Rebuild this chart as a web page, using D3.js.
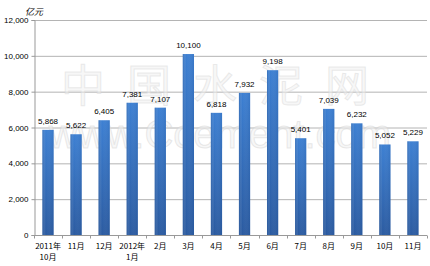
<!DOCTYPE html>
<html>
<head>
<meta charset="utf-8">
<script src="https://cdn.jsdelivr.net/npm/d3@7"></script>
<style>
  body { margin: 0; background: #fff; }
  svg { display: block; font-family: "Liberation Sans", Arial, "Noto Sans CJK SC", sans-serif; }
</style>
</head>
<body>
<svg id="chart" width="430" height="266"></svg>
<script>
// months, first line | second line of the x labels
var months = ["2011年|10月", "11月", "12月", "2012年|1月", "2月", "3月", "4月", "5月", "6月", "7月", "8月", "9月", "10月", "11月"];
var values = [5868, 5622, 6405, 7381, 7107, 10100, 6818, 7932, 9198, 5401, 7039, 6232, 5052, 5229];
var yTicks = [0, 2000, 4000, 6000, 8000, 10000, 12000];

var svg = d3.select("#chart");
var keys = months.map(function(m, i){ return i; });

var x = d3.scaleBand().domain(keys).range([34, 427]).paddingInner(0.6).paddingOuter(0.3);
var y = d3.scaleLinear().domain([0, 12000]).range([235, 20]);

// gradient for the bars (lighter top, darker bottom)
var defs = svg.append("defs");
var grad = defs.append("linearGradient").attr("id", "barg")
  .attr("x1", 0).attr("x2", 0).attr("y1", 0).attr("y2", 1);
grad.append("stop").attr("offset", "0%").attr("stop-color", "#3c7fd2");
grad.append("stop").attr("offset", "100%").attr("stop-color", "#2a5aa0");
var edge = defs.append("linearGradient").attr("id", "bare")
  .attr("x1", 0).attr("x2", 1).attr("y1", 0).attr("y2", 0);
edge.append("stop").attr("offset", "0%").attr("stop-color", "#1d4a8a").attr("stop-opacity", 0.35);
edge.append("stop").attr("offset", "30%").attr("stop-color", "#fff").attr("stop-opacity", 0);
edge.append("stop").attr("offset", "100%").attr("stop-color", "#1d4a8a").attr("stop-opacity", 0.15);

// grid
svg.append("g").selectAll("line").data(yTicks.slice(1)).enter().append("line")
  .attr("x1", 34).attr("x2", 427)
  .attr("y1", d => y(d) + 0.5).attr("y2", d => y(d) + 0.5)
  .attr("stroke", "#b4b4b4").attr("stroke-width", 1);

// y axis
var yAxis = d3.axisLeft(y).tickValues(yTicks).tickSize(3).tickFormat(d3.format(","));
var gy = svg.append("g").attr("transform", "translate(34.5,0)").call(yAxis);
gy.select(".domain").attr("stroke", "#999");
gy.selectAll(".tick line").attr("stroke", "#999");
gy.selectAll("text").attr("font-size", 8).attr("fill", "#000").attr("x", -6);

svg.append("text").attr("x", 25).attr("y", 15).attr("font-size", 9)
  .attr("font-family", "Noto Sans CJK SC").attr("font-style", "italic").text("亿元");

// watermark
svg.append("text").attr("x", 226).attr("y", 102).attr("text-anchor", "middle")
  .attr("font-size", 44).attr("font-family", "Noto Sans CJK SC").attr("fill", "#f0f0f0")
  .attr("fill-opacity", 0.5).attr("stroke", "#d4d4d4").attr("stroke-opacity", 0.45)
  .attr("letter-spacing", 22).text("中国水泥网");
svg.append("text").attr("x", 220).attr("y", 148).attr("text-anchor", "middle")
  .attr("font-size", 40).attr("fill", "#f0f0f0").attr("fill-opacity", 0.5)
  .attr("stroke", "#d0d0d0").attr("stroke-opacity", 0.45)
  .text("www.Ccement.com");

// bars
var bars = svg.append("g").selectAll("g").data(values).enter().append("g");
bars.append("rect")
  .attr("x", (d, i) => x(i)).attr("width", x.bandwidth())
  .attr("y", d => y(d)).attr("height", d => y(0) - y(d))
  .attr("fill", "url(#barg)");
bars.append("rect")
  .attr("x", (d, i) => x(i)).attr("width", x.bandwidth())
  .attr("y", d => y(d)).attr("height", d => y(0) - y(d))
  .attr("fill", "url(#bare)");

// value labels
svg.append("g").selectAll("text").data(values).enter().append("text")
  .attr("x", (d, i) => x(i) + x.bandwidth() / 2).attr("y", d => y(d) - 6)
  .attr("text-anchor", "middle").attr("font-size", 8).attr("fill", "#000")
  .text(d => d3.format(",")(d));

// x axis
var gx = svg.append("g").attr("transform", "translate(0,235.5)");
gx.append("line").attr("x1", 34).attr("x2", 427).attr("stroke", "#999");
var bw = x.step();
var edgeX = d => Math.round(x(0) - bw * x.paddingInner() / 2 + d * bw) + 0.5;
gx.selectAll(".tk").data(d3.range(keys.length + 1)).enter().append("line")
  .attr("x1", edgeX).attr("x2", edgeX)
  .attr("y1", 0).attr("y2", 3).attr("stroke", "#999");

var lab = gx.selectAll(".lab").data(months).enter().append("text")
  .attr("x", (d, i) => x(i) + x.bandwidth() / 2).attr("y", 13.5)
  .attr("text-anchor", "middle").attr("font-size", 8)
  .attr("font-family", "Noto Sans CJK SC").attr("fill", "#000");
lab.each(function(d){
  var parts = d.split("|");
  var t = d3.select(this);
  parts.forEach(function(p, j){
    t.append("tspan").attr("x", t.attr("x")).attr("dy", j ? 11 : 0).text(p);
  });
});
</script>
</body>
</html>
